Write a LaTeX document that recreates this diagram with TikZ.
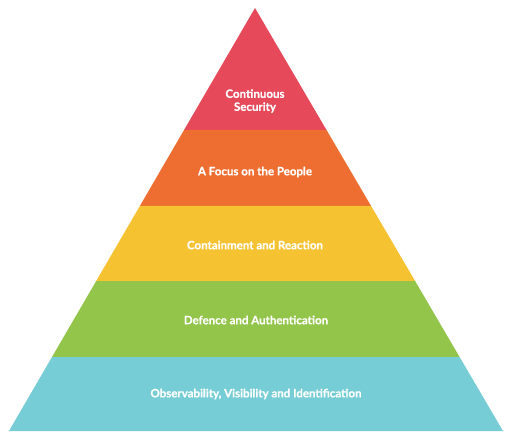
\documentclass[tikz,border=0pt]{standalone}
\usepackage{fontspec}
\setmainfont{Lato}[BoldFeatures={FakeBold=0.6}]
\definecolor{cred}{HTML}{E5495A}
\definecolor{corange}{HTML}{EE6D30}
\definecolor{cyellow}{HTML}{F5C232}
\definecolor{cgreen}{HTML}{92C54A}
\definecolor{cblue}{HTML}{76CDD5}
\begin{document}
\begin{tikzpicture}[x=1pt,y=-1pt,
  lbl/.style={text=white,font=\bfseries\fontsize{11.5}{13}\selectfont,align=center}]
\useasboundingbox (0,0) rectangle (512,441);
\coordinate (A) at (255,8);
\coordinate (L1) at (184.05,130); \coordinate (R1) at (326.5,130);
\coordinate (L2) at (139.85,206); \coordinate (R2) at (371.1,206);
\coordinate (L3) at (96.2,281);   \coordinate (R3) at (415.1,281);
\coordinate (L4) at (52.0,357);   \coordinate (R4) at (459.6,357);
\coordinate (L5) at (9,431);      \coordinate (R5) at (503,431);
\fill[cred] (A) -- (L1) -- (R1) -- cycle;
\fill[corange] (L1) -- (L2) -- (R2) -- (R1) -- cycle;
\fill[cyellow] (L2) -- (L3) -- (R3) -- (R2) -- cycle;
\fill[cgreen] (L3) -- (L4) -- (R4) -- (R3) -- cycle;
\fill[cblue] (L4) -- (L5) -- (R5) -- (R4) -- cycle;
\node[lbl] (t1) at (255,101) {Continuous\\Security};
\node[lbl] (t2) at (255,172) {A Focus on the People};
\node[lbl] (t3) at (255,245) {Containment and Reaction};
\node[lbl] (t4) at (256,320) {Defence and Authentication};
\node[lbl] (t5) at (256,394) {Observability, Visibility and Identification};
\end{tikzpicture}
\end{document}
